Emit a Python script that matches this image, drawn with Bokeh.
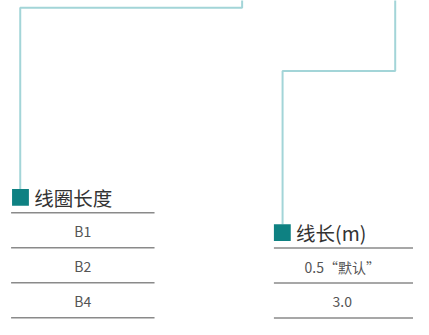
from bokeh.plotting import figure
from bokeh.models import Range1d
from bokeh.core.properties import value
from bokeh.embed import file_html
from bokeh.resources import INLINE

# ---- data ----
coil_header = "线圈长度"
coil_lengths = ["B1", "B2", "B4"]
wire_header = "线长(m)"
wire_lengths = ["0.5“默认”", "3.0"]

# ---- layout (reference pixel space) ----
W, H = 429, 335
ROW = 36.7
LINE_C = "#a3d5d8"
SQ_C = "#0e8182"
FONT = value("Noto Sans CJK SC")

p = figure(width=413, height=319, output_backend="svg", toolbar_location=None,
           x_range=Range1d(0, W), y_range=Range1d(H, 0), min_border=0)
p.axis.visible = False
p.grid.visible = False
p.outline_line_color = None
p.background_fill_color = "white"
p.border_fill_color = "white"

# connector lines
p.line([251, 251, 20.5, 20.5], [-2, 7.5, 7.5, 198], line_color=LINE_C, line_width=2)
p.line([410, 410, 293, 293], [-2, 74, 74, 235], line_color=LINE_C, line_width=2)

def table(x0, x1, sq_x, sq_top, header_y, line_y0, header, rows):
    p.quad(left=sq_x, right=sq_x + 17.5, top=sq_top, bottom=sq_top + 17.5,
           fill_color=SQ_C, line_color=None)
    p.text(x=[sq_x + 23], y=[header_y], text=[header], text_font=FONT,
           text_font_size="19.5px", text_font_style="normal", text_color="#333333",
           text_baseline="middle", text_align="left")
    ys = [line_y0 + ROW * i for i in range(len(rows) + 1)]
    p.segment(x0=[x0] * len(ys), x1=[x1] * len(ys), y0=ys, y1=ys,
              line_color="#8a8a8a", line_width=1.5)
    cx = (x0 + x1) / 2 if x1 < W else 355
    p.text(x=[cx] * len(rows), y=[y + ROW / 2 + 1 for y in ys[:-1]], text=rows,
           text_font=FONT, text_font_size="14px", text_color="#555555",
           text_baseline="middle", text_align="center")

table(11, 160, 12, 198, 207, 223, coil_header, coil_lengths)
table(284, 440, 284, 235, 243.5, 260, wire_header, wire_lengths)

open("out.html", "w").write(file_html(p, INLINE))
